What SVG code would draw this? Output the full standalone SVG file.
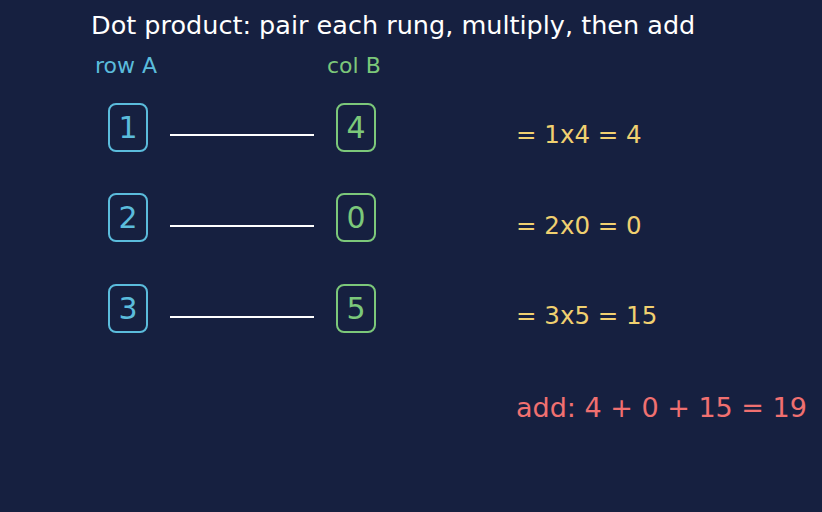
<svg xmlns="http://www.w3.org/2000/svg" width="822" height="512" viewBox="0 0 822 512">
<style>
text{font-family:"DejaVu Sans",sans-serif}
.title{fill:#ffffff;font-size:25.5px}
.hdrA{fill:#5bbcdc;font-size:22px}
.hdrB{fill:#7cc87a;font-size:22px}
.boxA rect{fill:none;stroke:#5bbcdc;stroke-width:2}
.boxB rect{fill:none;stroke:#7cc87a;stroke-width:2}
.boxA text{fill:#5bbcdc;font-size:30px;text-anchor:middle}
.boxB text{fill:#7cc87a;font-size:30px;text-anchor:middle}
.prod{fill:#f0d070;font-size:24.5px}
.sum{fill:#f07070;font-size:27px}
.conn line{stroke:#ffffff;stroke-width:2}
</style>
<rect width="822" height="512" fill="#162040"/>
<text class="title" x="91" y="34">Dot product: pair each rung, multiply, then add</text>
<text class="hdrA" x="95" y="73">row A</text>
<text class="hdrB" x="327" y="73">col B</text>
<g id="a1" class="boxA"><rect x="109" y="104" width="38" height="47" rx="7"/><text x="128" y="138">1</text></g>
<g id="a2" class="boxA"><rect x="109" y="194" width="38" height="47" rx="7"/><text x="128" y="228">2</text></g>
<g id="a3" class="boxA"><rect x="109" y="285" width="38" height="47" rx="7"/><text x="128" y="319">3</text></g>
<g id="b1" class="boxB"><rect x="337" y="104" width="38" height="47" rx="7"/><text x="356" y="138">4</text></g>
<g id="b2" class="boxB"><rect x="337" y="194" width="38" height="47" rx="7"/><text x="356" y="228">0</text></g>
<g id="b3" class="boxB"><rect x="337" y="285" width="38" height="47" rx="7"/><text x="356" y="319">5</text></g>
<g id="connectors" class="conn">
<line x1="170" y1="135" x2="314" y2="135"/>
<line x1="170" y1="226" x2="314" y2="226"/>
<line x1="170" y1="317" x2="314" y2="317"/>
</g>
<g id="p1"><text class="prod" x="516" y="143">= 1x4 = 4</text></g>
<g id="p2"><text class="prod" x="516" y="234">= 2x0 = 0</text></g>
<g id="p3"><text class="prod" x="516" y="324">= 3x5 = 15</text></g>
<g id="total"><text class="sum" x="516" y="417">add: 4 + 0 + 15 = 19</text></g>
</svg>
